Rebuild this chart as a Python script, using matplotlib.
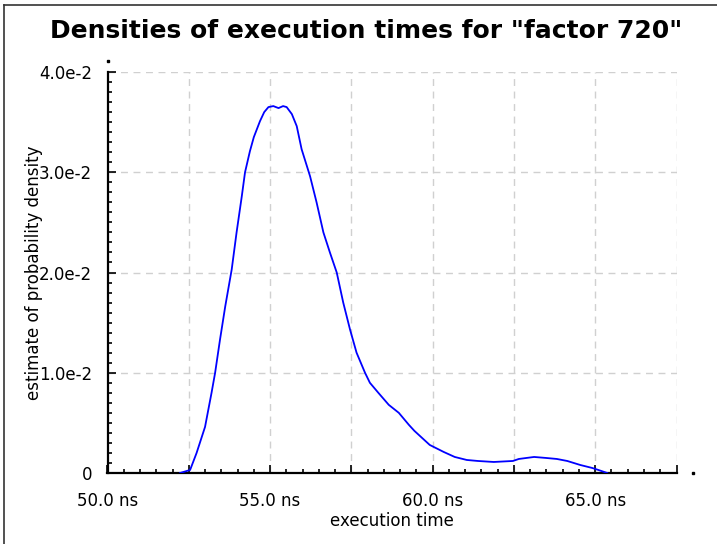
import matplotlib
matplotlib.use("Agg")
import matplotlib.pyplot as plt
from matplotlib.ticker import MultipleLocator, FuncFormatter
from matplotlib.lines import Line2D

# execution time (ns) and estimated density
times = [52.23, 52.54, 52.74, 53.00, 53.20, 53.31, 53.46, 53.62, 53.82, 53.97,
         54.13, 54.23, 54.38, 54.50, 54.69, 54.82, 54.95, 55.10, 55.26, 55.40,
         55.51, 55.67, 55.82, 55.97, 56.23, 56.43, 56.64, 56.84, 57.05, 57.25,
         57.46, 57.66, 57.92, 58.07, 58.33, 58.65, 58.96, 59.27, 59.44, 59.91,
         60.34, 60.68, 61.05, 61.39, 61.88, 62.47, 62.65, 63.12, 63.49, 63.82,
         64.14, 64.54, 64.91, 65.10, 65.37]
density = [0.0, 0.0003, 0.0020, 0.0046, 0.0080, 0.0100, 0.0133, 0.0166, 0.0203, 0.0240,
           0.0276, 0.0300, 0.0321, 0.0335, 0.0351, 0.0360, 0.0365, 0.0366, 0.0364, 0.0366,
           0.0365, 0.0358, 0.0346, 0.0323, 0.0296, 0.0270, 0.0240, 0.0220, 0.0200, 0.0170,
           0.0143, 0.0120, 0.0100, 0.0090, 0.0080, 0.0068, 0.0060, 0.0048, 0.0042, 0.0028,
           0.0021, 0.0016, 0.0013, 0.0012, 0.0011, 0.0012, 0.0014, 0.0016, 0.0015, 0.0014,
           0.0012, 0.0008, 0.0005, 0.0003, 0.0]

title = 'Densities of execution times for "factor 720"'
x_label = "execution time"
y_label = "estimate of probability density"


def x_fmt(v, pos):
    if abs(v / 5.0 - round(v / 5.0)) < 1e-6:
        return "%.1f ns" % v
    return ""


def y_fmt(v, pos):
    if abs(v) < 1e-12:
        return "0"
    return "%.1fe-2" % (v * 100)


fig = plt.figure(figsize=(7.17, 5.44), dpi=100)
ax = fig.add_axes([107.5 / 717, 1 - 473 / 544, (676.5 - 107.5) / 717, (473 - 72) / 544])

ax.plot(times, density, color="#0000ff", linewidth=1.3, zorder=3)

ax.set_xlim(50, 67.5)
ax.set_ylim(0, 0.04)

ax.xaxis.set_major_locator(MultipleLocator(2.5))
ax.xaxis.set_minor_locator(MultipleLocator(0.5))
ax.yaxis.set_major_locator(MultipleLocator(0.01))
ax.yaxis.set_minor_locator(MultipleLocator(0.001))
ax.xaxis.set_major_formatter(FuncFormatter(x_fmt))
ax.yaxis.set_major_formatter(FuncFormatter(y_fmt))

ax.tick_params(which="both", direction="in", width=1.2, labelsize=12)
ax.tick_params(which="major", length=6)
ax.tick_params(which="minor", length=3)
ax.tick_params(axis="x", which="major", pad=14)
ax.tick_params(axis="y", which="major", pad=11)

for s in ["top", "right"]:
    ax.spines[s].set_visible(False)
for s in ["left", "bottom"]:
    ax.spines[s].set_linewidth(1.6)

ax.grid(True, which="major", color="#d0d0d0", linestyle=(0, (5, 4)), linewidth=1.0)
ax.set_axisbelow(True)

ax.set_xlabel(x_label, fontsize=12, labelpad=1)
ax.set_ylabel(y_label, fontsize=12)
ax.yaxis.set_label_coords(-0.113, 0.5)

# small end marks beyond the axes
ax.plot([1.029], [0], marker="s", markersize=1.6, color="black",
        transform=ax.transAxes, clip_on=False)
ax.plot([0], [1.027], marker="s", markersize=1.6, color="black",
        transform=ax.transAxes, clip_on=False)

fig.text(366 / 717, 1 - 31 / 544, title, fontsize=18, fontweight="bold",
         ha="center", va="center")

# frame around the picture
fig.add_artist(Line2D([4 / 717, 4 / 717], [0, 1 - 5 / 544], color="#333333", linewidth=1.2))
fig.add_artist(Line2D([4 / 717, 1], [1 - 5 / 544, 1 - 5 / 544], color="#333333", linewidth=1.2))

fig.savefig("out.png", dpi=100)
